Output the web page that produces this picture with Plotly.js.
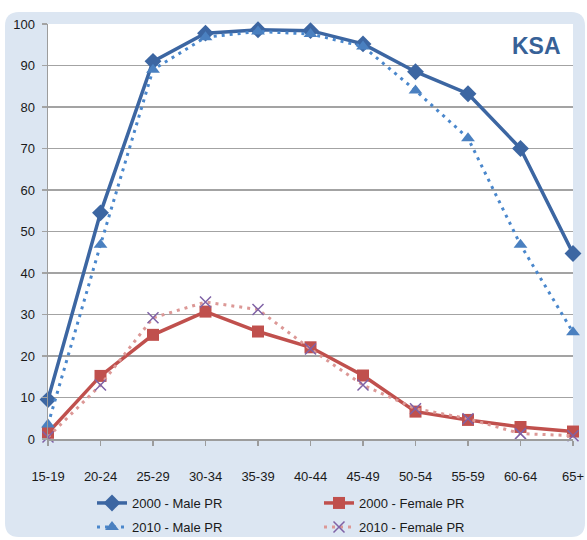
<!DOCTYPE html>
<html>
<head>
<meta charset="utf-8">
<script src="https://cdn.plot.ly/plotly-3.0.1.min.js"></script>
<style>
  html, body { margin: 0; padding: 0; background: #ffffff; }
  #chart { width: 587px; height: 540px; }
</style>
</head>
<body>
<div id="chart"></div>
<script>
// Labour force participation rates (%) by age group, Saudi Arabia
const ageGroups = ["15-19", "20-24", "25-29", "30-34", "35-39", "40-44", "45-49", "50-54", "55-59", "60-64", "65+"];
const male2000   = [9.5, 54.5, 91, 97.8, 98.6, 98.4, 95.2, 88.5, 83.2, 70, 44.7];
const male2010   = [3.5, 46.8, 89, 96.8, 98.2, 97.6, 94.6, 84, 72.5, 46.8, 25.7];
const female2000 = [1.5, 15.2, 25.1, 30.7, 25.9, 22.1, 15.3, 6.6, 4.6, 2.9, 1.8];
const female2010 = [0.5, 13, 29.2, 33, 31.2, 21.7, 13, 7.3, 4.9, 1.3, 0.8];

const FONT = "Liberation Sans, Arial, sans-serif";

// plot-area geometry in pixels, used to place the framed background
const W = 587, H = 540;
const M = { l: 48, r: 14, t: 24, b: 101, autoexpand: false };
const PW = W - M.l - M.r, PH = H - M.t - M.b;
const px = v => (v - M.l) / PW;
const py = v => (H - M.b - v) / PH;

function roundedRect(x0, y0, x1, y1, r) {
  const X = v => px(v), Y = v => py(v);
  return "M" + X(x0 + r) + "," + Y(y0) +
    " L" + X(x1 - r) + "," + Y(y0) +
    " Q" + X(x1) + "," + Y(y0) + " " + X(x1) + "," + Y(y0 + r) +
    " L" + X(x1) + "," + Y(y1 - r) +
    " Q" + X(x1) + "," + Y(y1) + " " + X(x1 - r) + "," + Y(y1) +
    " L" + X(x0 + r) + "," + Y(y1) +
    " Q" + X(x0) + "," + Y(y1) + " " + X(x0) + "," + Y(y1 - r) +
    " L" + X(x0) + "," + Y(y0 + r) +
    " Q" + X(x0) + "," + Y(y0) + " " + X(x0 + r) + "," + Y(y0) + " Z";
}

const traces = [
  {
    name: "2000 - Male PR", x: ageGroups, y: male2000, type: "scatter", mode: "lines+markers",
    line: { color: "#3c66a2", width: 3.5 },
    marker: { symbol: "diamond", size: 13, color: "#3c66a2" },
    cliponaxis: false, legend: "legend"
  },
  {
    name: "2000 - Female PR", x: ageGroups, y: female2000, type: "scatter", mode: "lines+markers",
    line: { color: "#c0504d", width: 3.5 },
    marker: { symbol: "square", size: 12, color: "#c0504d" },
    cliponaxis: false, legend: "legend"
  },
  {
    name: "2010 - Male PR", x: ageGroups, y: male2010, type: "scatter", mode: "lines+markers",
    line: { color: "#4a87cc", width: 3, dash: "3px,5px" },
    marker: { symbol: "triangle-up", size: 12, color: "#4a80c0" },
    cliponaxis: false, legend: "legend2"
  },
  {
    name: "2010 - Female PR", x: ageGroups, y: female2010, type: "scatter", mode: "lines+markers",
    line: { color: "#dc9896", width: 3, dash: "3px,5px" },
    marker: { symbol: "x-thin", size: 11, color: "#7f62a6", line: { color: "#7f62a6", width: 1.5 } },
    cliponaxis: false, legend: "legend2"
  }
];

const legendBase = {
  orientation: "h", xanchor: "left", yanchor: "middle",
  x: px(92), entrywidth: 182, entrywidthmode: "pixels",
  bgcolor: "rgba(0,0,0,0)", font: { family: FONT, size: 13, color: "#1a1a1a" },
  traceorder: "normal"
};

const layout = {
  width: W, height: H,
  margin: M,
  paper_bgcolor: "#ffffff",
  plot_bgcolor: "#ffffff",
  showlegend: true,
  legend: Object.assign({}, legendBase, { y: py(503) }),
  legend2: Object.assign({}, legendBase, { y: py(527) }),
  font: { family: FONT, size: 13, color: "#1a1a1a" },
  xaxis: {
    type: "category", range: [0, 10], showgrid: false, zeroline: false,
    showline: true, linecolor: "#9c9c9c", linewidth: 1.5,
    ticks: "outside", ticklen: 5, tickcolor: "#9c9c9c", tickwidth: 1.5,
    ticklabelstandoff: 20,
    tickfont: { family: FONT, size: 13, color: "#1a1a1a" }
  },
  yaxis: {
    range: [0, 100], dtick: 10, showgrid: true, gridcolor: "#a3a3a3", gridwidth: 1.5,
    zeroline: false, showline: true, linecolor: "#9c9c9c", linewidth: 1.5,
    ticks: "outside", ticklen: 5, tickcolor: "#a3a3a3", tickwidth: 1.5,
    ticklabelstandoff: 4,
    tickfont: { family: FONT, size: 13, color: "#1a1a1a" }
  },
  shapes: [
    { type: "path", xref: "paper", yref: "paper", layer: "below",
      path: roundedRect(5, 12, 585, 537, 14),
      fillcolor: "#dce6f2", line: { width: 0 } },
    { type: "rect", xref: "paper", yref: "paper", layer: "below",
      x0: 0, x1: 1, y0: 0, y1: 1, fillcolor: "#ffffff", line: { width: 0 } }
  ],
  annotations: [
    { text: "<b>KSA</b>", xref: "paper", yref: "paper", x: px(536), y: py(46),
      xanchor: "center", yanchor: "middle", showarrow: false,
      font: { family: FONT, size: 23, color: "#376197" } }
  ]
};

Plotly.newPlot("chart", traces, layout, { displayModeBar: false, staticPlot: true });
</script>
</body>
</html>
